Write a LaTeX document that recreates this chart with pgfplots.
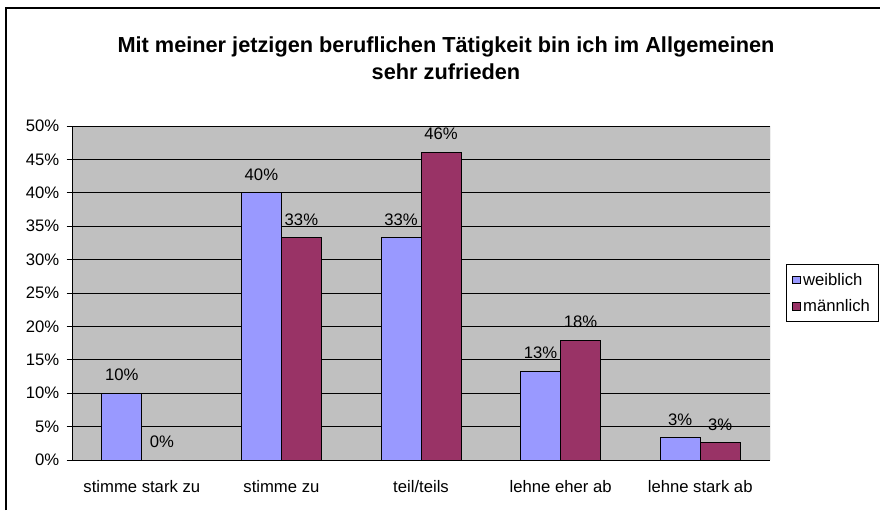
\documentclass[border=0pt]{standalone}
\usepackage{pgfplots}
\pgfplotsset{compat=1.18}
\usepackage{fontspec}
\setmainfont{Liberation Sans}
\definecolor{weibl}{HTML}{9999FF}
\definecolor{maennl}{HTML}{993366}
\definecolor{plotgray}{HTML}{C0C0C0}

\begin{document}
\begin{tikzpicture}
% page: 880x510 px, 1px = 0.75pt
\useasboundingbox (0,0) rectangle (660pt,382.5pt);
\draw[line width=0.9pt] (4.5pt,0) -- (4.5pt,376.5pt) -- (660pt,376.5pt);

\node[font=\fontsize{16.3}{20}\selectfont\bfseries, align=center] at (334.5pt,339pt)
  {Mit meiner jetzigen beruflichen Tätigkeit bin ich im Allgemeinen\\sehr zufrieden};

\begin{axis}[
    at={(54pt,37.5pt)}, anchor=south west,
    scale only axis,
    width=523.5pt, height=250.5pt,
    ybar, bar width=0.2865,
    xmin=-0.5, xmax=4.5,
    ymin=0, ymax=50,
    xtick={0,1,2,3,4},
    xticklabels={stimme stark zu, stimme zu, teil/teils, lehne eher ab, lehne stark ab},
    major x tick style={draw=none},
    extra x ticks={-0.5,0.5,1.5,2.5,3.5,4.5},
    extra x tick labels={},
    extra x tick style={tick style={draw=black}},
    ytick={0,5,...,50},
    yticklabel={\pgfmathprintnumber{\tick}\%},
    /pgf/number format/assume math mode=true,
    tick align=outside,
    major tick length=4pt,
    tick style={black, line width=0.6pt},
    axis x line*=bottom, axis y line*=left,
    axis line style={black, line width=0.75pt, -},
    ymajorgrids,
    grid style={black, line width=0.6pt},
    axis background/.style={fill=plotgray},
    ticklabel style={font=\fontsize{12.5}{14}\selectfont},
    x tick label style={yshift=-7.5pt},
    y tick label style={xshift=-2pt},
    nodes near coords={\pgfmathprintnumber[fixed,precision=0]{\pgfplotspointmeta}\%},
    every node near coord/.append style={font=\fontsize{12.5}{14}\selectfont, black, yshift=5.5pt},
    legend style={at={(1.0229,0.587)}, anchor=north west, draw=black, line width=0.6pt,
        font=\fontsize{12.5}{14}\selectfont, row sep=5pt, inner sep=4.5pt},
    legend cell align=left,
    legend image code/.code={\draw[#1, draw=black, line width=0.5pt] (0pt,-2.8pt) rectangle (5.6pt,2.8pt);},
]
\addplot[fill=weibl, draw=black, line width=0.75pt, bar shift=-0.1433] coordinates {
    (0,10.0) (1,40.0) (2,33.3) (3,13.3) (4,3.3)
};
\addlegendentry{weiblich}
\addplot[fill=maennl, draw=black, line width=0.75pt, bar shift=0.1433] coordinates {
    (0,0.0) (1,33.3) (2,46.1) (3,17.9) (4,2.6)
};
\addlegendentry{männlich}
\draw[gray, line width=0.6pt] (rel axis cs:1,0) -- (rel axis cs:1,1);
\end{axis}
\end{tikzpicture}
\end{document}
